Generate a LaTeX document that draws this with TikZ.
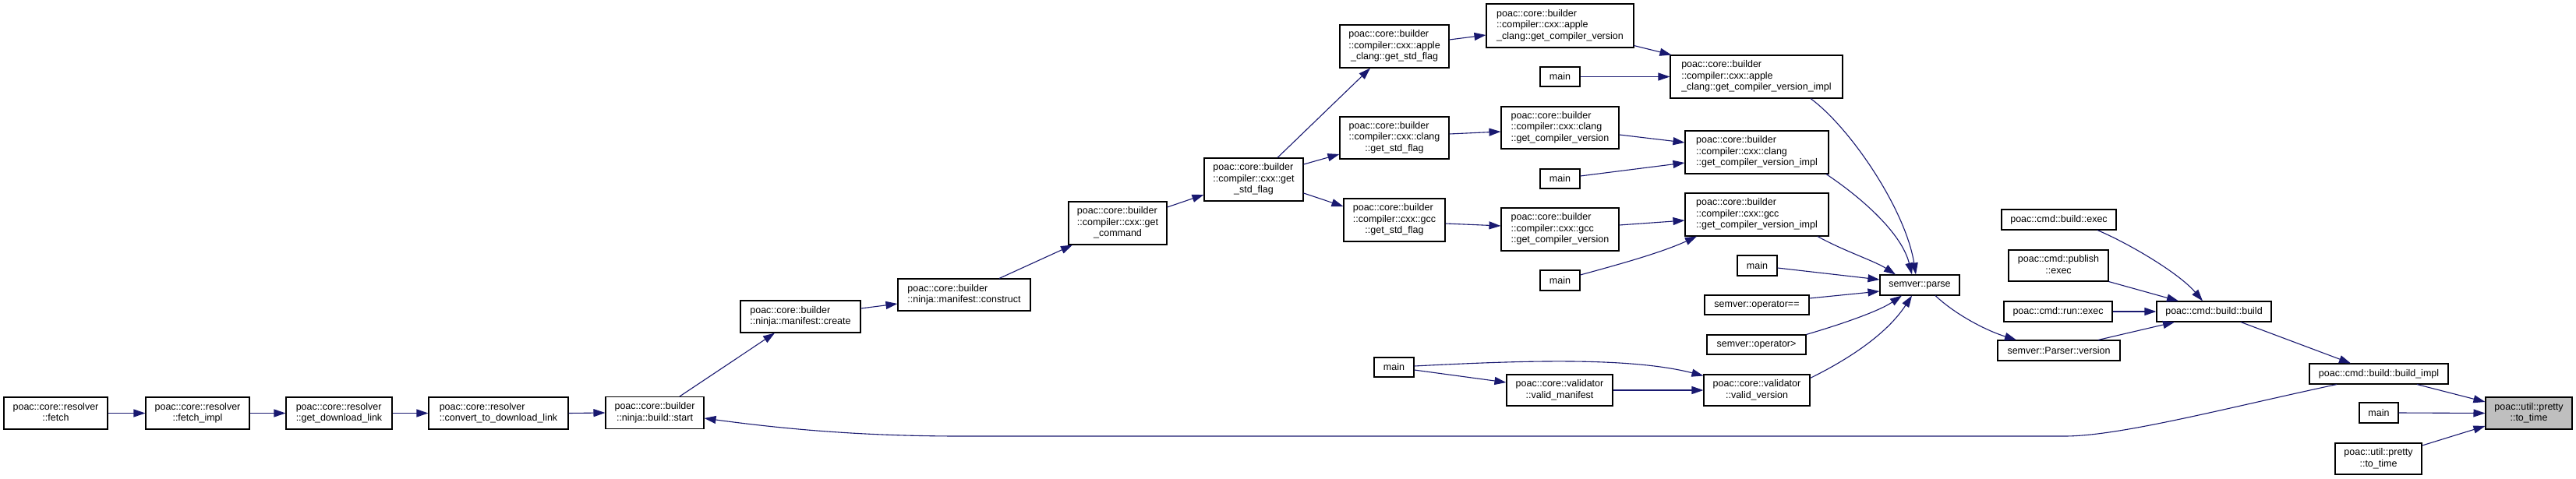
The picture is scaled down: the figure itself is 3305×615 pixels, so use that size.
\documentclass[tikz,border=0pt]{standalone}
\usepackage{fontspec}
\setmainfont{Liberation Sans}
\usetikzlibrary{arrows.meta}
\definecolor{edgeblue}{HTML}{191970}
\definecolor{targetgray}{HTML}{BFBFBF}
\newcommand{\dlab}[2]{\begin{tabular}{@{}l@{}}#1\\\multicolumn{1}{@{}c@{}}{#2}\end{tabular}}
\begin{document}
\begin{tikzpicture}[x=1pt,y=-1pt,
  box/.style={draw=black,fill=white,line width=1.1pt,inner sep=0pt,align=center,
    font=\fontsize{12.5pt}{14.5pt}\selectfont},
  tgt/.style={box,fill=targetgray},
  edge/.style={draw=edgeblue,line width=1.1pt,-{Triangle[length=15pt,width=10pt]}}]
\useasboundingbox (0,0) rectangle (3305,615);
\fill[white] (0,0) rectangle (3305,615);
% left chain
\node[box,minimum width=133pt,minimum height=41pt] (fetch) at (71.5,530.5) {\dlab{poac::core::resolver}{::fetch}};
\node[box,minimum width=133pt,minimum height=41pt] (fetchimpl) at (253.5,530.5) {\dlab{poac::core::resolver}{::fetch\_impl}};
\node[box,minimum width=136pt,minimum height=41pt] (gdl) at (435,530.5) {\dlab{poac::core::resolver}{::get\_download\_link}};
\node[box,minimum width=179pt,minimum height=41pt] (convert) at (639.5,530.5) {\dlab{poac::core::resolver}{::convert\_to\_download\_link}};
\node[box,minimum width=126pt,minimum height=41pt] (start) at (840,530) {\dlab{poac::core::builder}{::ninja::build::start}};
\node[box,minimum width=154pt,minimum height=41pt] (create) at (1027,406.5) {\dlab{poac::core::builder}{::ninja::manifest::create}};
\node[box,minimum width=170pt,minimum height=41pt] (construct) at (1237,378.5) {\dlab{poac::core::builder}{::ninja::manifest::construct}};
\node[box,minimum width=126pt,minimum height=55pt] (getcmd) at (1434,286.5) {\dlab{poac::core::builder\\::compiler::cxx::get}{\_command}};
\node[box,minimum width=127pt,minimum height=55pt] (stdflag) at (1608.5,230.5) {\dlab{poac::core::builder\\::compiler::cxx::get}{\_std\_flag}};
% std flag variants
\node[box,minimum width=140pt,minimum height=55pt] (applesf) at (1789,59.5) {\dlab{poac::core::builder\\::compiler::cxx::apple}{\_clang::get\_std\_flag}};
\node[box,minimum width=140pt,minimum height=54pt] (clangsf) at (1789,177) {\dlab{poac::core::builder\\::compiler::cxx::clang}{::get\_std\_flag}};
\node[box,minimum width=130pt,minimum height=55pt] (gccsf) at (1789,282.5) {\dlab{poac::core::builder\\::compiler::cxx::gcc}{::get\_std\_flag}};
% compiler version
\node[box,minimum width=189pt,minimum height=56pt] (applegcv) at (2001.5,33) {\dlab{poac::core::builder\\::compiler::cxx::apple}{\_clang::get\_compiler\_version}};
\node[box,minimum width=51pt,minimum height=25pt] (mainA) at (2001.5,98.5) {main};
\node[box,minimum width=151pt,minimum height=54pt] (clanggcv) at (2001.5,164) {\dlab{poac::core::builder\\::compiler::cxx::clang}{::get\_compiler\_version}};
\node[box,minimum width=51pt,minimum height=25pt] (mainB) at (2001.5,229.5) {main};
\node[box,minimum width=151pt,minimum height=55pt] (gccgcv) at (2001.5,294.5) {\dlab{poac::core::builder\\::compiler::cxx::gcc}{::get\_compiler\_version}};
\node[box,minimum width=51pt,minimum height=26pt] (mainC) at (2001.5,360) {main};
% impl
\node[box,minimum width=221pt,minimum height=55pt] (appleimpl) at (2253.5,98.5) {\dlab{poac::core::builder\\::compiler::cxx::apple}{\_clang::get\_compiler\_version\_impl}};
\node[box,minimum width=184pt,minimum height=55pt] (clangimpl) at (2254,195.5) {\dlab{poac::core::builder\\::compiler::cxx::clang}{::get\_compiler\_version\_impl}};
\node[box,minimum width=184pt,minimum height=55pt] (gccimpl) at (2254,275.5) {\dlab{poac::core::builder\\::compiler::cxx::gcc}{::get\_compiler\_version\_impl}};
\node[box,minimum width=51pt,minimum height=26pt] (mainD) at (2254.5,341) {main};
\node[box,minimum width=134pt,minimum height=25pt] (opeq) at (2254,391.5) {semver::operator==};
\node[box,minimum width=127pt,minimum height=25pt] (opgt) at (2253.5,442.5) {semver::operator>};
% validator
\node[box,minimum width=51pt,minimum height=25pt] (mainE) at (1788.5,471.5) {main};
\node[box,minimum width=136pt,minimum height=40pt] (vmanifest) at (2001,501) {\dlab{poac::core::validator}{::valid\_manifest}};
\node[box,minimum width=136pt,minimum height=40pt] (vversion) at (2254,501) {\dlab{poac::core::validator}{::valid\_version}};
% semver
\node[box,minimum width=102pt,minimum height=26pt] (parse) at (2463,366) {semver::parse};
% cmd
\node[box,minimum width=147pt,minimum height=26pt] (bexec) at (2641.5,282) {poac::cmd::build::exec};
\node[box,minimum width=128pt,minimum height=40pt] (pexec) at (2641,341) {\dlab{poac::cmd::publish}{::exec}};
\node[box,minimum width=139pt,minimum height=26pt] (rexec) at (2640.5,400) {poac::cmd::run::exec};
\node[box,minimum width=157pt,minimum height=26pt] (pversion) at (2641.5,450) {semver::Parser::version};
\node[box,minimum width=147pt,minimum height=26pt] (bbuild) at (2840.5,400) {poac::cmd::build::build};
\node[box,minimum width=178pt,minimum height=26pt] (bimpl) at (3052,480) {poac::cmd::build::build\_impl};
\node[box,minimum width=50pt,minimum height=26pt] (mainF) at (3052,530) {main};
\node[box,minimum width=111pt,minimum height=40pt] (totimeB) at (3051.5,589) {\dlab{poac::util::pretty}{::to\_time}};
\node[tgt,minimum width=111pt,minimum height=41pt] (target) at (3244.5,530.5) {\dlab{poac::util::pretty}{::to\_time}};
% edges
\draw[edge] (fetch.east) -- (fetchimpl.west);
\draw[edge] (fetchimpl.east) -- (gdl.west);
\draw[edge] (gdl.east) -- (convert.west);
\draw[edge] (convert.east) -- (start.west);
\draw[edge] ([xshift=32pt]start.north) -- ([xshift=-33pt]create.south);
\draw[edge] ([yshift=10.5pt]create.east) -- ([yshift=-11.5pt]construct.west);
\draw[edge] ([xshift=45pt]construct.north) -- ([xshift=-58pt]getcmd.south);
\draw[edge] ([yshift=20.5pt]getcmd.east) -- ([yshift=-19.5pt]stdflag.west);
\draw[edge] ([xshift=30.5pt]stdflag.north) -- ([xshift=-31pt]applesf.south);
\draw[edge] ([yshift=19.5pt]stdflag.east) -- ([yshift=-21pt]clangsf.west);
\draw[edge] ([yshift=-17.5pt]stdflag.east) -- ([yshift=17.5pt]gccsf.west);
\draw[edge] ([yshift=8.5pt]applesf.east) -- ([yshift=-12pt]applegcv.west);
\draw[edge] ([yshift=3pt]applegcv.south east) -- ([xshift=2pt]appleimpl.north west);
\draw[edge] (mainA.east) -- (appleimpl.west);
\draw[edge] ([yshift=5pt]clangsf.east) -- ([yshift=-5pt]clanggcv.west);
\draw[edge] ([yshift=-9pt]clanggcv.east) -- ([yshift=12.5pt]clangimpl.west);
\draw[edge] ([yshift=3.5pt]mainB.east) -- ([yshift=-13.5pt]clangimpl.west);
\draw[edge] ([yshift=-4.5pt]gccsf.east) -- ([yshift=4.5pt]gccgcv.west);
\draw[edge] ([yshift=5.5pt]gccgcv.east) -- ([yshift=-7.5pt]gccimpl.west);
\draw[edge] ([yshift=7pt]mainC.east) .. controls (2075,340) and (2130,325) .. ([xshift=-77pt]gccimpl.south);
\draw[edge] ([xshift=69.5pt]appleimpl.south) .. controls (2375,165) and (2445,270) .. ([xshift=-5pt]parse.north);
\draw[edge] ([xshift=89pt]clangimpl.south) .. controls (2390,255) and (2440,300) .. ([xshift=-10pt]parse.north);
\draw[edge] ([xshift=78pt]gccimpl.south) .. controls (2365,322) and (2405,335) .. ([xshift=-31pt]parse.north);
\draw[edge] ([yshift=-3pt]mainD.east) -- ([yshift=7pt]parse.west);
\draw[edge] ([yshift=8.5pt]opeq.east) -- ([yshift=-8pt]parse.west);
\draw[edge] (opgt.north east) .. controls (2360,417) and (2410,400) .. ([xshift=-23pt]parse.south);
\draw[edge] ([yshift=-5pt]vversion.north east) .. controls (2370,462) and (2420,430) .. ([xshift=-10pt]parse.south);
\draw[edge] ([yshift=-3.5pt]mainE.east) -- ([yshift=10pt]vmanifest.west);
\draw[edge] ([yshift=1.5pt]mainE.east) .. controls (1950,463) and (2090,458) .. ([yshift=-2pt]vversion.north west);
\draw[edge] (vmanifest.east) -- (vversion.west);
\draw[edge] ([xshift=20pt]parse.south) .. controls (2510,405) and (2550,425) .. ([xshift=-54.5pt]pversion.north);
\draw[edge] ([xshift=50.5pt]pversion.north) -- ([xshift=-50.5pt]bbuild.south);
\draw[edge] ([xshift=49.5pt]bexec.south) .. controls (2730,312) and (2795,350) .. ([xshift=-14.5pt]bbuild.north);
\draw[edge] (pexec.south east) -- ([xshift=-45.5pt]bbuild.north);
\draw[edge] (rexec.east) -- (bbuild.west);
\draw[edge] ([xshift=34.5pt]bbuild.south) -- ([xshift=-36pt]bimpl.north);
\draw[edge] ([xshift=49pt]bimpl.south) -- ([yshift=14.5pt]target.west);
\draw[edge] (mainF.east) -- (target.west);
\draw[edge] ([yshift=17pt]totimeB.east) -- ([yshift=-16.5pt]target.west);
\draw[edge] ([xshift=-54pt]bimpl.south) .. controls (2860,523) and (2720,560) .. (2649,560) -- (1232,560) .. controls (1100,560) and (1000,550) .. ([yshift=-7pt]start.east);
\end{tikzpicture}
\end{document}
